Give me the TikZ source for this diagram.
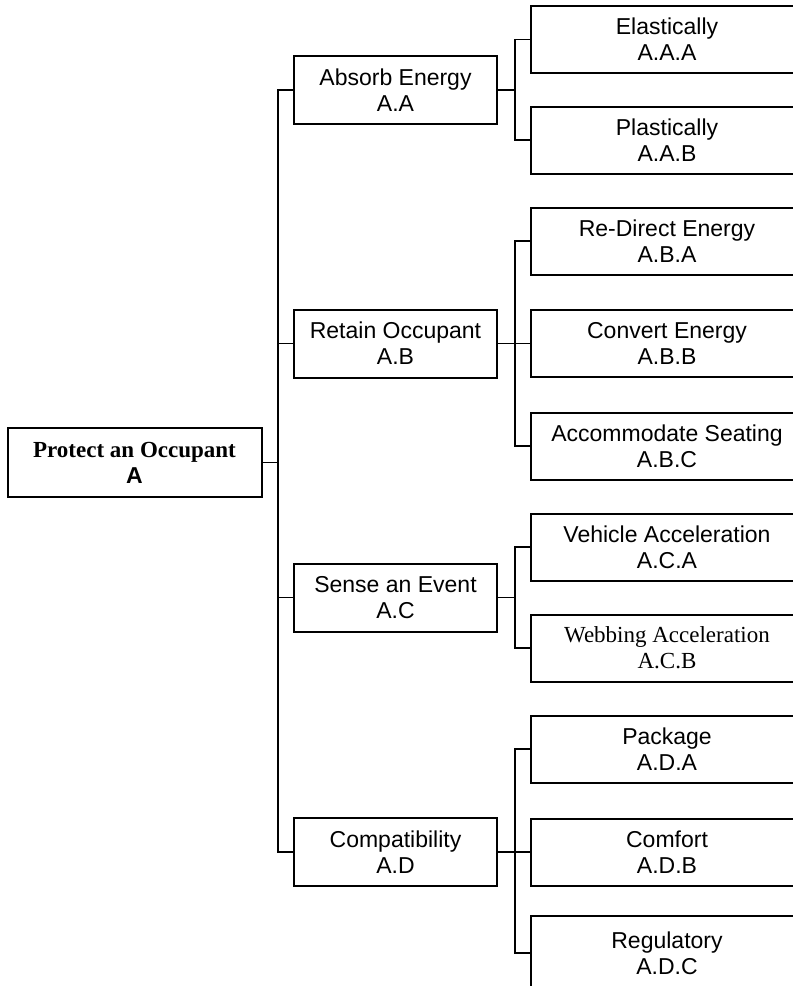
\documentclass[tikz,border=0pt]{standalone}
\usepackage{fontspec}
\setmainfont{Liberation Sans}
\newfontfamily\timesfont{Liberation Serif}
\usetikzlibrary{calc}

\begin{document}
\begin{tikzpicture}[x=1pt, y=-1pt,
        every node/.style={font=\fontsize{23}{26}\selectfont, align=center, inner sep=0pt},
        rootbox/.style={draw, line width=2pt, minimum width=254pt, minimum height=69pt},
        funcbox/.style={draw, line width=2pt, minimum width=203pt, minimum height=68pt},
        subbox/.style={draw, line width=2pt, minimum width=272pt, minimum height=67pt, anchor=west},
        link/.style={line width=1.9pt}]
        % Page size and clipping of the boxes at the right edge
        \useasboundingbox (0,0) rectangle (793,986);
        \clip (0,0) rectangle (793,986);

        % Top function
        \node[rootbox] (A) at (134.5,462.5) {{\timesfont\bfseries Protect an Occupant}\\\bfseries A};

        % Second level
        \node[funcbox] (AA) at (395.5,90) {Absorb Energy\\A.A};
        \node[funcbox] (AB) at (395.5,343.5) {Retain Occupant\\A.B};
        \node[funcbox] (AC) at (395.5,597.5) {Sense an Event\\A.C};
        \node[funcbox] (AD) at (395.5,852) {Compatibility\\A.D};

        % Third level
        \node[subbox] (AAA) at (530,39.5) {Elastically\\A.A.A};
        \node[subbox] (AAB) at (530,140) {Plastically\\A.A.B};
        \node[subbox] (ABA) at (530,241) {Re-Direct Energy\\A.B.A};
        \node[subbox] (ABB) at (530,343.5) {Convert Energy\\A.B.B};
        \node[subbox] (ABC) at (530,446) {Accommodate Seating\\A.B.C};
        \node[subbox] (ACA) at (530,547) {Vehicle Acceleration\\A.C.A};
        \node[subbox] (ACB) at (530,648) {\timesfont Webbing Acceleration\\\timesfont A.C.B};
        \node[subbox] (ADA) at (530,749) {Package\\A.D.A};
        \node[subbox] (ADB) at (530,852) {Comfort\\A.D.B};
        \node[subbox, minimum height=74pt] (ADC) at (530,953) {Regulatory\\A.D.C};

        % Trunk from the top function
        \coordinate (trunk) at (278,462.5);
        \draw[link] (A.east) -- (trunk);
        \foreach \n in {AA,AB,AC,AD}
            \draw[link] (trunk) |- (\n.west);

        % Buses to the third level
        \foreach \n/\kids in {AA/{AAA,AAB},AB/{ABA,ABB,ABC},AC/{ACA,ACB},AD/{ADA,ADB,ADC}}{
            \draw[link] (\n.east) -- ++(17,0) coordinate (bus);
            \foreach \k in \kids
                \draw[link] (bus) |- (\k.west);
        }

    \end{tikzpicture}
\end{document}
